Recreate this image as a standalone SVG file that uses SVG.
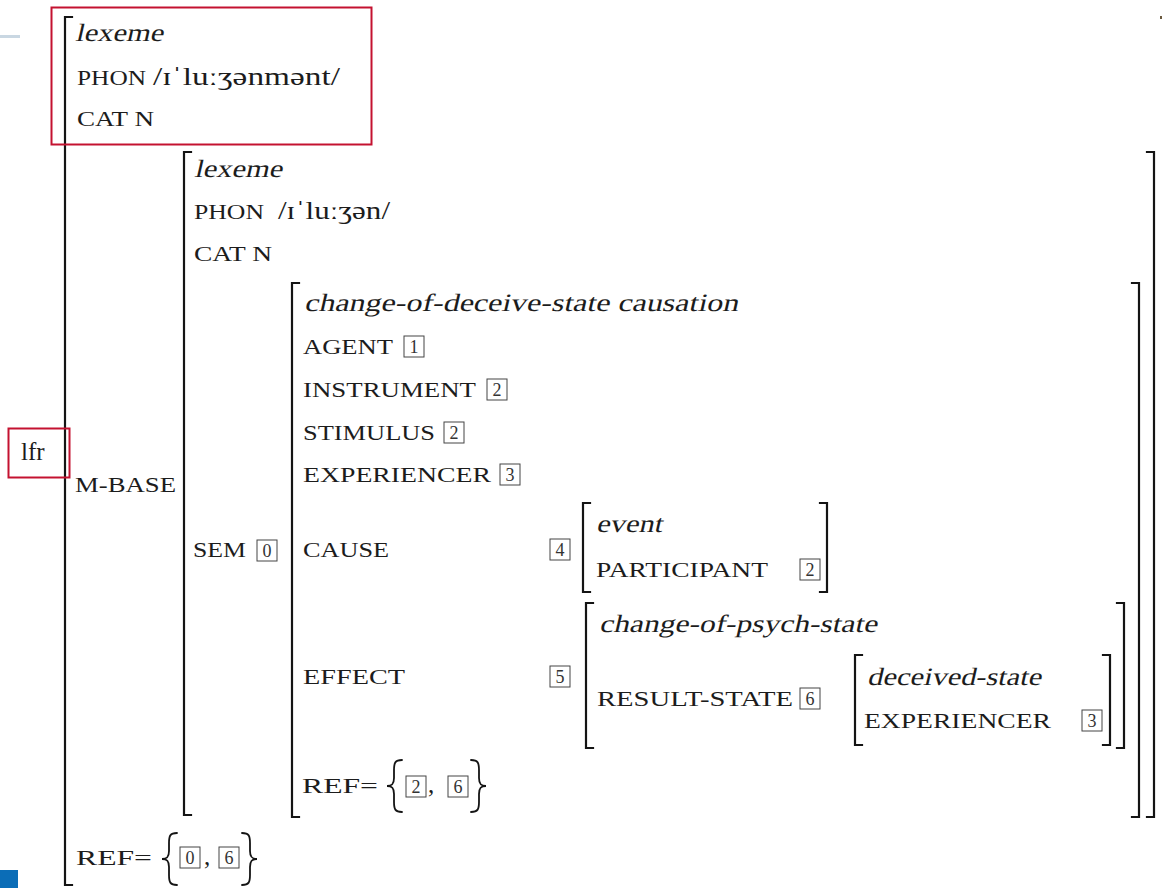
<svg xmlns="http://www.w3.org/2000/svg" width="1162" height="888" viewBox="0 0 1162 888">
  <style>
    .it { font-family: "Liberation Serif", "DejaVu Serif", serif; font-size: 25px; fill: #1c1c1c; }
    .sc { font-family: "Liberation Serif", "DejaVu Serif", serif; font-size: 22px; fill: #1c1c1c; }
    .rm { font-family: "Liberation Serif", "DejaVu Serif", serif; font-size: 25px; fill: #1c1c1c; }
    .br { fill: none; stroke: #141414; stroke-width: 2.2; stroke-linecap: square; }
    .brace { fill: none; stroke: #141414; stroke-width: 1.8; stroke-linecap: round; }
    .hl { fill: none; stroke: #c41230; stroke-width: 2; }
    .tag rect { fill: none; stroke: #444; stroke-width: 1; }
    .tag text { font-family: "Liberation Serif", "DejaVu Serif", serif; font-size: 18px; fill: #333; text-anchor: middle; }
  </style>
  <defs>
    <path id="lbrace" d="M15,0 C8,0 7,3 7,10 L7,18 C7,24 5,26 0,26 C5,26 7,28 7,34 L7,42 C7,49 8,52 15,52"/>
    <path id="rbrace" d="M0,0 C7,0 8,3 8,10 L8,18 C8,24 10,26 15,26 C10,26 8,28 8,34 L8,42 C8,49 7,52 0,52"/>
  </defs>

  <rect width="1162" height="888" fill="#ffffff"/>
  <!-- page furniture at the edges -->
  <rect x="0" y="35" width="20" height="3" fill="#c9d7e2"/>
  <rect x="0" y="870" width="18" height="18" fill="#0b6db7"/>
  <rect x="1160" y="16" width="2" height="3" fill="#6b5a40"/>

  <!-- bracket frames of the attribute-value matrices -->
  <g id="connectors">
    <path class="br" d="M72,17 H65 V885 H72"/>
    <path class="br" d="M191,152 H184 V815 H191"/>
    <path class="br" d="M1147,152 H1154 V817 H1147"/>
    <path class="br" d="M299,283 H292 V817 H299"/>
    <path class="br" d="M1132,283 H1139 V817 H1132"/>
    <path class="br" d="M590,503 H583 V592 H590"/>
    <path class="br" d="M820,503 H827 V592 H820"/>
    <path class="br" d="M593,603 H586 V748 H593"/>
    <path class="br" d="M1117,603 H1124 V748 H1117"/>
    <path class="br" d="M862,655 H855 V745 H862"/>
    <path class="br" d="M1103,655 H1110 V745 H1103"/>
  </g>

  <!-- lexeme: illusionment -->
  <g id="lexeme-top">
    <rect class="hl" x="51.5" y="7.5" width="320" height="137"/>
    <text class="it" transform="translate(75,41) skewX(-13)" textLength="88" lengthAdjust="spacingAndGlyphs">lexeme</text>
    <text class="sc" x="77" y="85" textLength="69" lengthAdjust="spacingAndGlyphs">PHON</text>
    <text class="rm" x="153" y="85" textLength="187" lengthAdjust="spacingAndGlyphs">/ɪˈluːʒənmənt/</text>
    <text class="sc" x="77" y="126" textLength="77" lengthAdjust="spacingAndGlyphs">CAT N</text>
  </g>

  <!-- rule label -->
  <g id="lfr">
    <rect class="hl" x="8.5" y="428.5" width="61" height="49"/>
    <text class="rm" x="21" y="460" font-size="26">lfr</text>
  </g>

  <!-- morphological base: illusion -->
  <g id="m-base">
    <text class="sc" x="75" y="492" textLength="101" lengthAdjust="spacingAndGlyphs">M-BASE</text>
    <text class="it" transform="translate(194,177) skewX(-13)" textLength="88" lengthAdjust="spacingAndGlyphs">lexeme</text>
    <text class="sc" x="194" y="219" textLength="70" lengthAdjust="spacingAndGlyphs">PHON</text>
    <text class="rm" x="278" y="219" textLength="112" lengthAdjust="spacingAndGlyphs">/ɪˈluːʒən/</text>
    <text class="sc" x="194" y="261" textLength="78" lengthAdjust="spacingAndGlyphs">CAT N</text>
    <text class="sc" x="193" y="557" textLength="53" lengthAdjust="spacingAndGlyphs">SEM</text>
    <g class="tag" transform="translate(257,540)"><rect width="20" height="21"/><text x="10" y="17">0</text></g>
  </g>

  <!-- semantics -->
  <g id="sem">
    <text class="it" transform="translate(304,311) skewX(-13)" textLength="434" lengthAdjust="spacingAndGlyphs">change-of-deceive-state causation</text>
    <text class="sc" x="303" y="354" textLength="90" lengthAdjust="spacingAndGlyphs">AGENT</text>
    <g class="tag" transform="translate(404,336)"><rect width="20" height="21"/><text x="10" y="17">1</text></g>
    <text class="sc" x="303" y="397" textLength="173" lengthAdjust="spacingAndGlyphs">INSTRUMENT</text>
    <g class="tag" transform="translate(487,379)"><rect width="20" height="21"/><text x="10" y="17">2</text></g>
    <text class="sc" x="303" y="440" textLength="132" lengthAdjust="spacingAndGlyphs">STIMULUS</text>
    <g class="tag" transform="translate(444,422)"><rect width="20" height="21"/><text x="10" y="17">2</text></g>
    <text class="sc" x="303" y="482" textLength="188" lengthAdjust="spacingAndGlyphs">EXPERIENCER</text>
    <g class="tag" transform="translate(500,464)"><rect width="20" height="21"/><text x="10" y="17">3</text></g>
    <text class="sc" x="303" y="557" textLength="86" lengthAdjust="spacingAndGlyphs">CAUSE</text>
    <g class="tag" transform="translate(550,539)"><rect width="20" height="21"/><text x="10" y="17">4</text></g>
    <text class="sc" x="303" y="684" textLength="102" lengthAdjust="spacingAndGlyphs">EFFECT</text>
    <g class="tag" transform="translate(550,666)"><rect width="20" height="21"/><text x="10" y="17">5</text></g>
    <text class="sc" x="302" y="793" textLength="76" lengthAdjust="spacingAndGlyphs">REF=</text>
    <use href="#lbrace" class="brace" x="387" y="760"/>
    <g class="tag" transform="translate(406,776)"><rect width="20" height="21"/><text x="10" y="17">2</text></g>
    <text class="rm" x="428" y="793">,</text>
    <g class="tag" transform="translate(448,776)"><rect width="20" height="21"/><text x="10" y="17">6</text></g>
    <use href="#rbrace" class="brace" x="471" y="760"/>
  </g>

  <!-- cause event -->
  <g id="cause">
    <text class="it" transform="translate(596,532) skewX(-13)" textLength="66" lengthAdjust="spacingAndGlyphs">event</text>
    <text class="sc" x="596" y="577" textLength="172" lengthAdjust="spacingAndGlyphs">PARTICIPANT</text>
    <g class="tag" transform="translate(800,559)"><rect width="20" height="21"/><text x="10" y="17">2</text></g>
  </g>

  <!-- effect -->
  <g id="effect">
    <text class="it" transform="translate(599,632) skewX(-13)" textLength="278" lengthAdjust="spacingAndGlyphs">change-of-psych-state</text>
    <text class="sc" x="597" y="706" textLength="196" lengthAdjust="spacingAndGlyphs">RESULT-STATE</text>
    <g class="tag" transform="translate(800,688)"><rect width="20" height="21"/><text x="10" y="17">6</text></g>
  </g>

  <!-- result state -->
  <g id="result-state">
    <text class="it" transform="translate(867,685) skewX(-13)" textLength="174" lengthAdjust="spacingAndGlyphs">deceived-state</text>
    <text class="sc" x="864" y="728" textLength="187" lengthAdjust="spacingAndGlyphs">EXPERIENCER</text>
    <g class="tag" transform="translate(1082,710)"><rect width="20" height="21"/><text x="10" y="17">3</text></g>
  </g>

  <!-- outer referents -->
  <g id="ref-outer">
    <text class="sc" x="76" y="865" textLength="76" lengthAdjust="spacingAndGlyphs">REF=</text>
    <use href="#lbrace" class="brace" x="162" y="833"/>
    <g class="tag" transform="translate(180,847)"><rect width="20" height="21"/><text x="10" y="17">0</text></g>
    <text class="rm" x="204" y="865">,</text>
    <g class="tag" transform="translate(219,847)"><rect width="20" height="21"/><text x="10" y="17">6</text></g>
    <use href="#rbrace" class="brace" x="242" y="833"/>
  </g>
</svg>
